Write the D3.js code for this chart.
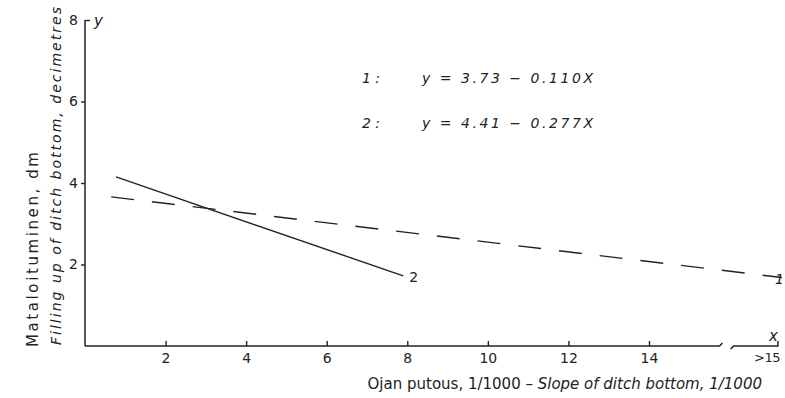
<!DOCTYPE html>
<meta charset="utf-8">
<script src="https://d3js.org/d3.v7.js"></script>
<style>
  body { margin: 0; background: #fff; }
  text { font-family: "DejaVu Sans", sans-serif; fill: #222; }
</style>
<body>
<div id="chart"></div>
<script>
  // values
  const yTicks = [2, 4, 6, 8];
  const xTicks = [2, 4, 6, 8, 10, 12, 14];
  const xBreakLabel = ">15";         // sits after the axis break
  const line1X = [0.65, 17.3];       // dashed, curve 1
  const line1Y = [3.66, 1.68];
  const line2X = [0.77, 7.9];        // solid, curve 2
  const line2Y = [4.15, 1.72];
  const eqNames = ["1 :", "2 :"];
  const eqTexts = ["y  =  3.73  − 0.110X", "y  =  4.41  − 0.277X"];

  const width = 785, height = 398;
  const ink = "#222";

  const svg = d3.select("#chart").append("svg")
    .attr("width", width)
    .attr("height", height);

  const x = d3.scaleLinear().domain([0, 14]).range([85, 649]);
  const y = d3.scaleLinear().domain([0, 8]).range([346, 20]);

  // y axis
  const yAxis = svg.append("g")
    .attr("transform", `translate(${x(0)},0)`)
    .call(d3.axisLeft(y).tickValues(yTicks).tickSize(4).tickPadding(3));
  yAxis.select(".domain").remove();
  yAxis.selectAll("line").attr("stroke", ink).attr("stroke-width", 1.4)
    .filter(d => d === 8).attr("x2", 5);
  yAxis.selectAll("text").style("font-size", "14px").attr("fill", ink);
  svg.append("line")
    .attr("x1", x(0)).attr("x2", x(0))
    .attr("y1", y(8)).attr("y2", y(0))
    .attr("stroke", ink).attr("stroke-width", 1.5);

  // x axis
  const xAxis = svg.append("g")
    .attr("transform", `translate(0,${y(0)})`)
    .call(d3.axisBottom(x).tickValues(xTicks).tickSizeInner(-5).tickSizeOuter(0).tickPadding(7));
  xAxis.select(".domain").remove();
  xAxis.selectAll("line").attr("stroke", ink).attr("stroke-width", 1.4);
  xAxis.selectAll("text").style("font-size", "14px").attr("fill", ink);

  // broken end of the x axis
  const y0 = y(0);
  const seg1End = x(15.75), seg2Start = x(16.1), seg2End = x(17.2);
  svg.append("path")
    .attr("d", `M${x(0)},${y0}H${seg1End}l3,-3`)
    .attr("fill", "none").attr("stroke", ink).attr("stroke-width", 1.5);
  svg.append("path")
    .attr("d", `M${seg2Start - 3},${y0 + 3}L${seg2Start},${y0}H${seg2End}v-5`)
    .attr("fill", "none").attr("stroke", ink).attr("stroke-width", 1.5);
  svg.append("text")
    .attr("x", 780).attr("y", y0 + 7)
    .attr("dy", "0.71em")
    .attr("text-anchor", "end")
    .style("font-size", "13px")
    .style("letter-spacing", "-0.5px")
    .text(xBreakLabel);

  // lines
  const lineGen = d3.line().x(d => x(d[0])).y(d => y(d[1]));
  svg.append("path")
    .datum(d3.zip(line1X, line1Y))
    .attr("d", lineGen)
    .attr("fill", "none").attr("stroke", ink).attr("stroke-width", 1.4)
    .attr("stroke-dasharray", "23,18");
  svg.append("path")
    .datum(d3.zip(line2X, line2Y))
    .attr("d", lineGen)
    .attr("fill", "none").attr("stroke", ink).attr("stroke-width", 1.4);

  svg.append("text")
    .attr("x", x(line2X[1]) + 6).attr("y", y(line2Y[1]) + 6)
    .style("font-size", "14px")
    .text("2");
  svg.append("text")
    .attr("x", 775).attr("y", y(line1Y[1]) + 6)
    .style("font-size", "14px").style("font-style", "italic")
    .text("1");

  // axis letters
  svg.append("text")
    .attr("x", 94).attr("y", 26)
    .style("font-size", "15px").style("font-style", "italic")
    .text("y");
  svg.append("text")
    .attr("x", 769).attr("y", 341)
    .style("font-size", "15px").style("font-style", "italic")
    .text("x");

  // equations
  eqNames.forEach((n, i) => {
    const by = 83 + i * 45;
    svg.append("text")
      .attr("x", 362).attr("y", by)
      .style("font-size", "14px").style("font-style", "italic")
      .text(n);
    svg.append("text")
      .attr("x", 422).attr("y", by)
      .attr("textLength", 171).attr("lengthAdjust", "spacing")
      .style("font-size", "14px").style("font-style", "italic")
      .text(eqTexts[i]);
  });

  // axis titles
  svg.append("text")
    .attr("transform", "translate(38,347) rotate(-90)")
    .attr("textLength", 195).attr("lengthAdjust", "spacing")
    .style("font-size", "15px")
    .text("Mataloituminen, dm");
  svg.append("text")
    .attr("transform", "translate(61,345) rotate(-90)")
    .attr("textLength", 338).attr("lengthAdjust", "spacing")
    .style("font-size", "14px").style("font-style", "italic")
    .text("Filling up of ditch bottom, decimetres");

  const xt = svg.append("text")
    .attr("x", 762).attr("y", 389)
    .attr("text-anchor", "end")
    .style("font-size", "15px");
  xt.append("tspan").text("Ojan putous, 1/1000 – ");
  xt.append("tspan").style("font-style", "italic").text("Slope of ditch bottom, 1/1000");
</script>
</body>
